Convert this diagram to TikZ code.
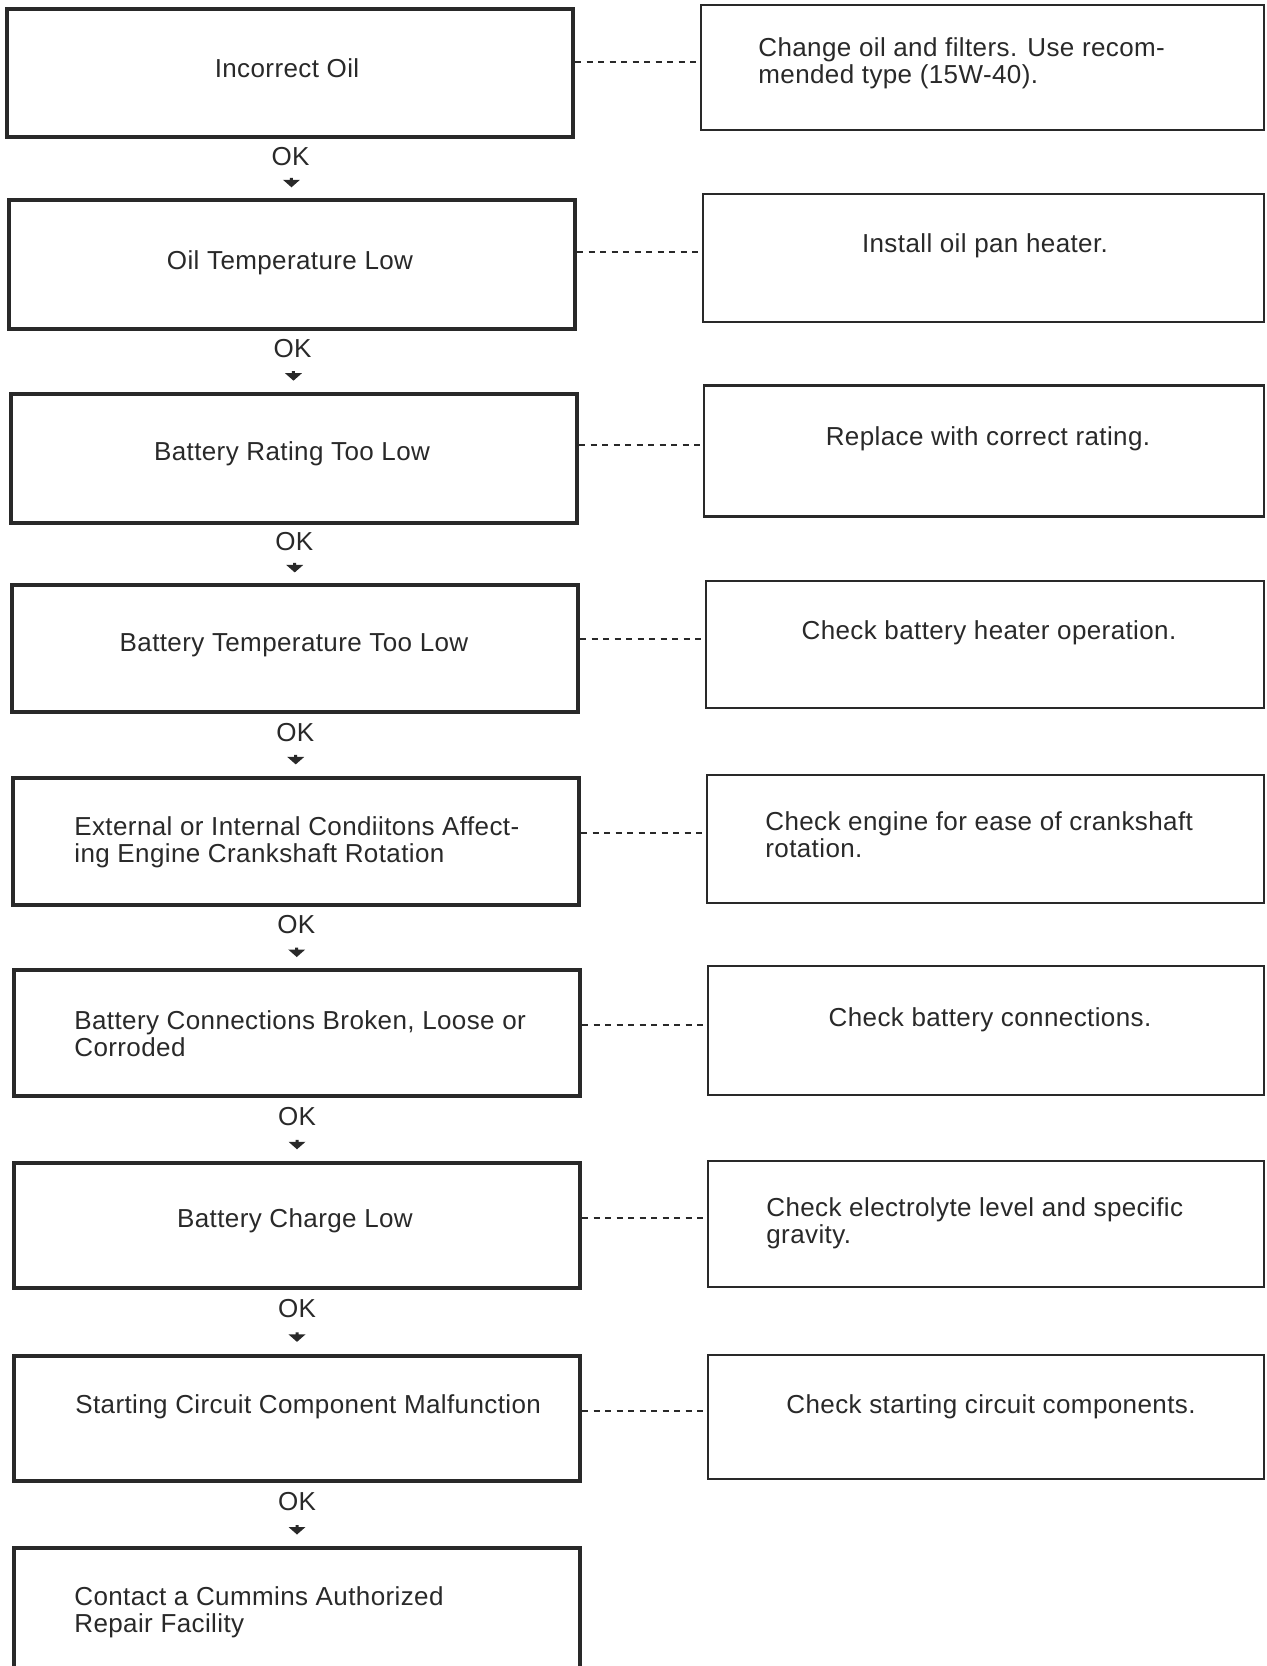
\documentclass[tikz,border=0pt]{standalone}
\usepackage{fontspec}
\setmainfont{Liberation Sans}[LetterSpace=1.5]
\usetikzlibrary{calc}
\definecolor{ink}{gray}{0.16}
\begin{document}
\begin{tikzpicture}[x=0.5pt,y=-0.5pt,
  lbox/.style={draw=ink, line width=2pt, minimum width=283pt, inner sep=0pt},
  rbox/.style={draw=ink, line width=1.1pt, inner sep=0pt},
  txt/.style={text=ink, inner sep=0pt, font=\fontsize{13pt}{13.25pt}\selectfont},
  mtxt/.style={txt, align=left, anchor=base west},
  oklbl/.style={txt, anchor=center},
  dashln/.style={draw=ink, line width=1pt, dash pattern=on 3pt off 2.75pt},
  tip/.style={fill=ink}
]
\clip (0,0) rectangle (1266,1666);
\fill[white] (0,0) rectangle (1266,1666);

% left boxes
\node[lbox, minimum height=64pt]   (B1) at (290,73)   {};
\node[lbox, minimum height=64.5pt] (B2) at (292,264)  {};
\node[lbox, minimum height=64.5pt] (B3) at (294,458)  {};
\node[lbox, minimum height=63.5pt] (B4) at (295,648)  {};
\node[lbox, minimum height=63.5pt] (B5) at (296,841)  {};
\node[lbox, minimum height=63pt]   (B6) at (297,1033) {};
\node[lbox, minimum height=62.5pt] (B7) at (297,1225) {};
\node[lbox, minimum height=62.5pt] (B8) at (297,1418) {};
\node[lbox, minimum height=65pt]   (B9) at (297,1613) {};

% right boxes
\node[rbox, minimum width=281.5pt, minimum height=62.5pt] (R1) at (982.5,67.5) {};
\node[rbox, minimum width=280.5pt, minimum height=64pt]   (R2) at (983.5,258)  {};
\node[rbox, minimum width=280pt,   minimum height=65.5pt] (R3) at (984,451)    {};
\node[rbox, minimum width=279pt,   minimum height=63.5pt] (R4) at (985,644.5)  {};
\node[rbox, minimum width=278.5pt, minimum height=64pt]   (R5) at (985.5,839)  {};
\node[rbox, minimum width=278pt,   minimum height=64.5pt] (R6) at (986,1030.5) {};
\node[rbox, minimum width=278pt,   minimum height=63pt]   (R7) at (986,1224)   {};
\node[rbox, minimum width=278pt,   minimum height=62pt]   (R8) at (986,1417)   {};

% left texts
\node[txt, anchor=base] (tB1) at (287,77)  {Incorrect Oil};
\node[txt, anchor=base] (tB2) at (290,269) {Oil Temperature Low};
\node[txt, anchor=base] (tB3) at (292,460) {Battery Rating Too Low};
\node[txt, anchor=base] (tB4) at (294,651) {Battery Temperature Too Low};
\node[mtxt] (tB5) at (74,862)  {External or Internal Condiitons Affect-\\ing Engine Crankshaft Rotation};
\node[mtxt] (tB6) at (74,1056) {Battery Connections Broken, Loose or\\Corroded};
\node[txt, anchor=base] (tB7) at (295,1227) {Battery Charge Low};
\node[txt, anchor=base west] (tB8) at (75,1413) {Starting Circuit Component Malfunction};
\node[mtxt] (tB9) at (74,1632) {Contact a Cummins Authorized\\Repair Facility};

% right texts
\node[mtxt] (tR1) at (758,83) {Change oil and filters. Use recom-\\mended type (15W-40).};
\node[txt, anchor=base] (tR2) at (985,252)  {Install oil pan heater.};
\node[txt, anchor=base] (tR3) at (988,445)  {Replace with correct rating.};
\node[txt, anchor=base] (tR4) at (989,639)  {Check battery heater operation.};
\node[mtxt] (tR5) at (765,857)  {Check engine for ease of crankshaft\\rotation.};
\node[txt, anchor=base] (tR6) at (990,1026) {Check battery connections.};
\node[mtxt] (tR7) at (766,1243) {Check electrolyte level and specific\\gravity.};
\node[txt, anchor=base] (tR8) at (991,1413) {Check starting circuit components.};

% dashed links
\foreach \i in {1,...,8}{
  \path ($(R\i.west)+(0,-6)$) coordinate (d\i);
  \draw[dashln] (B\i.east |- d\i) -- (d\i);
}

% OK connectors
\foreach \i/\j in {1/2,2/3,3/4,4/5,5/6,6/7,7/8,8/9}{
  \path (B\i.south) -- coordinate[pos=0.3] (k\i) coordinate[pos=0.74] (a\i) (B\j.north);
  \node[oklbl] (ok\i) at (k\i) {OK};
  \fill[tip] (a\i) ++(-8.5,-2.5) -- ++(7,0) -- ++(0,-2) -- ++(3,0) -- ++(0,2) -- ++(7,0) -- ($(a\i)+(0,5)$) -- cycle;
}
\end{tikzpicture}
\end{document}
